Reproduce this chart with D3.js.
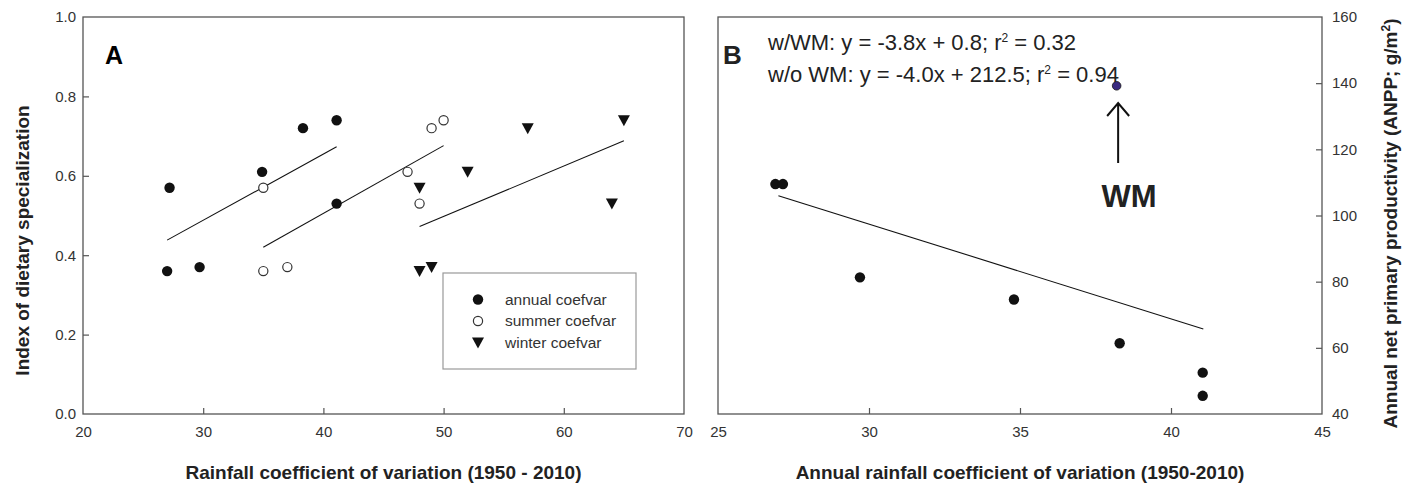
<!DOCTYPE html>
<html>
<head>
<meta charset="utf-8">
<script src="https://cdn.jsdelivr.net/npm/d3@7"></script>
<style>
    body { margin: 0; background: #fff; }
    text { font-family: "Liberation Sans", Arial, sans-serif; }
</style>
</head>
<body>
<div id="container"></div>
<script>
// panel A - dietary specialization vs rainfall CV
const annualX = [27.0, 27.2, 29.7, 34.9, 38.3, 41.1, 41.1]
const annualY = [0.36, 0.57, 0.37, 0.61, 0.72, 0.74, 0.53]
const summerX = [35.0, 35.0, 37.0, 47.0, 48.0, 49.0, 50.0]
const summerY = [0.36, 0.57, 0.37, 0.61, 0.53, 0.72, 0.74]
const winterX = [48.0, 49.0, 48.0, 52.0, 57.0, 64.0, 65.0]
const winterY = [0.36, 0.37, 0.57, 0.61, 0.72, 0.53, 0.74]
// fitted lines: [x0, y0, x1, y1]
const annualFit = [27.0, 0.438, 41.1, 0.673]
const summerFit = [35.0, 0.42, 50.0, 0.676]
const winterFit = [48.0, 0.472, 65.0, 0.688]
const xTicksA = [20, 30, 40, 50, 60, 70]
const yTicksA = [0.0, 0.2, 0.4, 0.6, 0.8, 1.0]
const legendNames = ["annual coefvar", "summer coefvar", "winter coefvar"]

// panel B - ANPP vs annual rainfall CV
const anppX = [26.9, 27.15, 29.7, 34.8, 38.3, 41.05, 41.05]
const anppY = [109.5, 109.5, 81.3, 74.6, 61.4, 52.5, 45.5]
const wmX = [38.2]
const wmY = [139.2]
const anppFit = [27.0, 106.0, 41.07, 65.7]
const xTicksB = [25, 30, 35, 40, 45]
const yTicksB = [40, 60, 80, 100, 120, 140, 160]
const equations = ["w/WM: y = -3.8x + 0.8; r", "w/o WM: y = -4.0x + 212.5; r"]
const eqTails = [" = 0.32", " = 0.94"]

const width = 1405, height = 489
const frameColor = "#555"
const tickColor = "#333"
const labelSize = 19

const svg = d3.select("#container").append("svg")
    .attr("width", width)
    .attr("height", height)

function frame(g, x, y) {
    const [x0, x1] = x.range(), [y1, y0] = y.range()
    g.append("rect")
        .attr("x", x0).attr("y", y0)
        .attr("width", x1 - x0).attr("height", y1 - y0)
        .attr("fill", "none")
        .attr("stroke", frameColor)
        .attr("stroke-width", 1.3)
}

function fitLine(g, x, y, f) {
    g.append("line")
        .attr("x1", x(f[0])).attr("y1", y(f[1]))
        .attr("x2", x(f[2])).attr("y2", y(f[3]))
        .attr("stroke", "#111")
        .attr("stroke-width", 1.1)
}

function points(g, x, y, xs, ys, kind) {
    const data = xs.map((d, i) => [d, ys[i]])
    if (kind === "tri") {
        const tri = "M-6,-5L6,-5L0,6Z"
        g.append("g").selectAll("path")
            .data(data)
            .join("path")
            .attr("d", tri)
            .attr("transform", d => `translate(${x(d[0])},${y(d[1])})`)
            .attr("fill", "#111")
    } else {
        g.append("g").selectAll("circle")
            .data(data)
            .join("circle")
            .attr("cx", d => x(d[0]))
            .attr("cy", d => y(d[1]))
            .attr("r", kind === "open" ? 4.6 : 5.2)
            .attr("fill", kind === "open" ? "#fff" : "#111")
            .attr("stroke", kind === "open" ? "#333" : "none")
            .attr("stroke-width", 1.2)
    }
}

// ---------- panel A ----------
function panelA() {
    const x = d3.scaleLinear().domain([20, 70]).range([83, 684])
    const y = d3.scaleLinear().domain([0, 1]).range([414, 17])
    const g = svg.append("g")

    g.append("g")
        .attr("transform", `translate(0,${y(0)})`)
        .call(d3.axisBottom(x).tickValues(xTicksA).tickSizeInner(-6).tickSizeOuter(0).tickPadding(12))
        .call(a => a.select(".domain").remove())
        .call(a => a.selectAll(".tick line").filter(d => d === 20 || d === 70).remove())
    g.append("g")
        .attr("transform", `translate(${x(20)},0)`)
        .call(d3.axisLeft(y).tickValues(yTicksA).tickFormat(d3.format(".1f")).tickSizeInner(-6).tickSizeOuter(0).tickPadding(7))
        .call(a => a.select(".domain").remove())
        .call(a => a.selectAll(".tick line").filter(d => d === 0 || d === 1).remove())
    g.selectAll(".tick text").attr("font-size", 15).attr("fill", tickColor).attr("font-family", "Liberation Sans")
    g.selectAll(".tick line").attr("stroke", frameColor).attr("stroke-width", 1.2)

    frame(g, x, y)

    fitLine(g, x, y, annualFit)
    fitLine(g, x, y, summerFit)
    fitLine(g, x, y, winterFit)
    points(g, x, y, annualX, annualY, "filled")
    points(g, x, y, summerX, summerY, "open")
    points(g, x, y, winterX, winterY, "tri")

    g.append("text")
        .attr("x", 105).attr("y", 64)
        .attr("font-size", 25).attr("font-weight", "bold")
        .text("A")

    // legend
    const lg = g.append("g").attr("transform", "translate(443,273)")
    lg.append("rect")
        .attr("width", 193).attr("height", 96)
        .attr("fill", "#fff")
        .attr("stroke", "#999")
        .attr("stroke-width", 1.2)
    const kinds = ["filled", "open", "tri"]
    const items = lg.selectAll("g.item")
        .data(legendNames)
        .join("g")
        .attr("class", "item")
        .attr("transform", (d, i) => `translate(35,${26.5 + i * 21.5})`)
    items.each(function (d, i) {
        const it = d3.select(this)
        if (kinds[i] === "tri") {
            it.append("path").attr("d", "M-6,-5L6,-5L0,6Z").attr("fill", "#111")
        } else {
            it.append("circle")
                .attr("r", kinds[i] === "open" ? 4.6 : 5.2)
                .attr("fill", kinds[i] === "open" ? "#fff" : "#111")
                .attr("stroke", kinds[i] === "open" ? "#333" : "none")
                .attr("stroke-width", 1.2)
        }
    })
    items.append("text")
        .attr("x", 27)
        .attr("dy", "0.35em")
        .attr("font-size", 15.5)
        .attr("fill", "#333")
        .text(d => d)

    g.append("text")
        .attr("x", (x.range()[0] + x.range()[1]) / 2).attr("y", 479)
        .attr("text-anchor", "middle")
        .attr("font-size", labelSize).attr("font-weight", "bold")
        .attr("fill", "#222")
        .text("Rainfall coefficient of variation (1950 - 2010)")
    g.append("text")
        .attr("transform", `translate(29,${(y.range()[0] + y.range()[1]) / 2 + 25}) rotate(-90)`)
        .attr("text-anchor", "middle")
        .attr("font-size", labelSize).attr("font-weight", "bold")
        .attr("fill", "#222")
        .text("Index of dietary specialization")
}

// ---------- panel B ----------
function panelB() {
    const x = d3.scaleLinear().domain([25, 45]).range([718, 1322])
    const y = d3.scaleLinear().domain([40, 160]).range([414, 17])
    const g = svg.append("g")

    g.append("g")
        .attr("transform", `translate(0,${y(40)})`)
        .call(d3.axisBottom(x).tickValues(xTicksB).tickSizeInner(-6).tickSizeOuter(0).tickPadding(12))
        .call(a => a.select(".domain").remove())
        .call(a => a.selectAll(".tick line").filter(d => d === 25 || d === 45).remove())
    g.append("g")
        .attr("transform", `translate(${x(45)},0)`)
        .call(d3.axisRight(y).tickValues(yTicksB).tickSizeInner(-6).tickSizeOuter(0).tickPadding(10))
        .call(a => a.select(".domain").remove())
        .call(a => a.selectAll(".tick line").filter(d => d === 40 || d === 160).remove())
    g.selectAll(".tick text").attr("font-size", 15).attr("fill", tickColor).attr("font-family", "Liberation Sans")
    g.selectAll(".tick line").attr("stroke", frameColor).attr("stroke-width", 1.2)

    frame(g, x, y)

    fitLine(g, x, y, anppFit)
    points(g, x, y, anppX, anppY, "filled")
    g.append("g").selectAll("circle")
        .data(wmX.map((d, i) => [d, wmY[i]]))
        .join("circle")
        .attr("cx", d => x(d[0]))
        .attr("cy", d => y(d[1]))
        .attr("r", 4.3)
        .attr("fill", "#3a2a80")
        .attr("stroke", "#111")
        .attr("stroke-width", 0.8)

    // arrow pointing at WM
    const ax = x(wmX[0]) + 1.5
    g.append("path")
        .attr("d", `M${ax},163V104M${ax - 11},116L${ax},103L${ax + 11},116`)
        .attr("fill", "none")
        .attr("stroke", "#111")
        .attr("stroke-width", 2)
    g.append("text")
        .attr("x", ax + 11).attr("y", 207)
        .attr("text-anchor", "middle")
        .attr("font-family", "Lato, 'Open Sans', sans-serif")
        .attr("font-size", 31).attr("font-weight", "bold")
        .attr("fill", "#222")
        .text("WM")

    g.append("text")
        .attr("x", 723).attr("y", 64)
        .attr("font-family", "Lato, 'Open Sans', sans-serif")
        .attr("font-size", 26).attr("font-weight", "bold")
        .attr("fill", "#222")
        .text("B")

    const eq = g.append("g")
        .selectAll("text")
        .data(equations)
        .join("text")
        .attr("x", 768)
        .attr("y", (d, i) => 50 + i * 32)
        .attr("font-family", "Lato, 'Open Sans', sans-serif")
        .attr("font-size", 22)
        .attr("fill", "#222")
    eq.append("tspan").text(d => d)
    eq.append("tspan").attr("dy", -8).attr("font-size", 12).text("2")
    eq.append("tspan").attr("dy", 8).text((d, i) => eqTails[i])

    g.append("text")
        .attr("x", (x.range()[0] + x.range()[1]) / 2).attr("y", 479)
        .attr("text-anchor", "middle")
        .attr("font-size", labelSize).attr("font-weight", "bold")
        .attr("fill", "#222")
        .text("Annual rainfall coefficient of variation (1950-2010)")
    const yl = g.append("text")
        .attr("transform", `translate(1397,${(y.range()[0] + y.range()[1]) / 2 + 8}) rotate(-90)`)
        .attr("text-anchor", "middle")
        .attr("font-size", labelSize).attr("font-weight", "bold")
        .attr("fill", "#222")
    yl.append("tspan").text("Annual net primary productivity (ANPP; g/m")
    yl.append("tspan").attr("dy", -7).attr("font-size", 12).text("2")
    yl.append("tspan").attr("dy", 7).text(")")
}

panelA()
panelB()
</script>
</body>
</html>
